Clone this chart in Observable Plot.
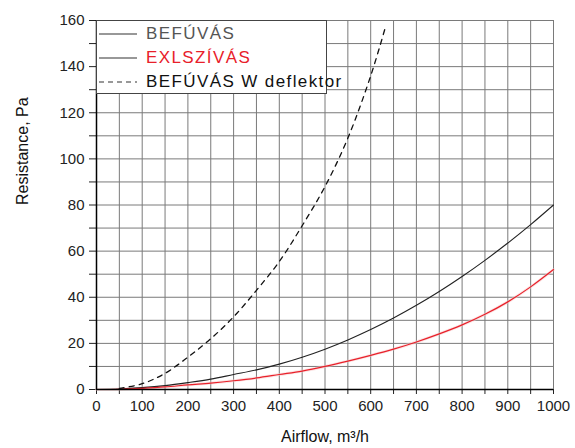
<!DOCTYPE html>
<html>
<head>
<meta charset="utf-8">
<script src="https://cdn.jsdelivr.net/npm/d3@7"></script>
<script src="https://cdn.jsdelivr.net/npm/@observablehq/plot@0.6"></script>
<style>
  html, body { margin: 0; padding: 0; background: #fff; }
  #wrap { position: relative; width: 575px; height: 448px; font-family: "Liberation Sans", Arial, sans-serif; }
  #legend { position: absolute; left: 96px; top: 20px; width: 231px; height: 74px; background: #fff;
            border: 1px solid #444; box-sizing: border-box; }
  .row { position: absolute; left: 2px; height: 24px; display: flex; align-items: center; white-space: nowrap; }
  .row span { font-size: 17px; letter-spacing: 1.4px; margin-left: 9px; white-space: nowrap; }
</style>
</head>
<body>
<div id="wrap"></div>
<script>
// Data
const flow = [0, 50, 100, 150, 200, 250, 300, 350, 400, 450, 500, 550, 600, 650, 700, 750, 800, 850, 900, 950, 1000];
const befuvas = [0, 0.2, 0.8, 1.7, 3, 4.5, 6.5, 8.5, 11, 14, 17.5, 21.5, 26, 31, 36.5, 42.5, 49, 56, 63.5, 71.5, 80];
const exlszivas = [0, 0.1, 0.5, 1.1, 2, 2.8, 3.8, 5, 6.5, 8, 10, 12.3, 14.8, 17.5, 20.6, 24.1, 28, 32.6, 38, 44.5, 52];
const deflFlow = [50, 100, 150, 200, 250, 300, 350, 400, 450, 500, 550, 600, 632];
const deflektor = [0.5, 2.5, 7, 14, 22, 31.5, 43, 55.5, 71, 88, 109, 136, 157];
const xMajor = [0, 100, 200, 300, 400, 500, 600, 700, 800, 900, 1000];
const xMinor = [50, 150, 250, 350, 450, 550, 650, 750, 850, 950];
const yMajor = [0, 20, 40, 60, 80, 100, 120, 140, 160];
const yMinor = [10, 30, 50, 70, 90, 110, 130, 150];
const xGrid = [...xMajor, ...xMinor];
const yGrid = [...yMajor, ...yMinor];
const seriesNames = ["BEFÚVÁS", "EXLSZÍVÁS", "BEFÚVÁS W deflektor"];

const s1 = flow.map((f, i) => ({f, r: befuvas[i]}));
const s2 = flow.map((f, i) => ({f, r: exlszivas[i]}));
const s3 = deflFlow.map((f, i) => ({f, r: deflektor[i]}));

const chart = Plot.plot({
  width: 575,
  height: 448,
  marginLeft: 96,
  marginRight: 22,
  marginTop: 20,
  marginBottom: 59,
  style: { fontFamily: "'Liberation Sans', Arial, sans-serif", fontSize: "14px", color: "#222", background: "#fff" },
  x: { domain: [0, 1000] },
  y: { domain: [0, 160] },
  marks: [
    Plot.gridX(xGrid, { stroke: "#7a7a7a", strokeOpacity: 1, strokeWidth: 1 }),
    Plot.gridY(yGrid, { stroke: "#7a7a7a", strokeOpacity: 1, strokeWidth: 1 }),
    Plot.axisX(xMinor, { tickSize: 5, text: null, label: null, stroke: "#222" }),
    Plot.axisX(xMajor, { tickSize: 5, tickPadding: 6, label: null, fontSize: 15, fill: "#222", stroke: "#222", tickFormat: d => String(d) }),
    Plot.axisY(yMinor, { tickSize: 7, text: null, label: null, stroke: "#222" }),
    Plot.axisY(yMajor, { tickSize: 7, tickPadding: 5, label: null, fontSize: 15, fill: "#222", stroke: "#222", tickFormat: d => String(d) }),
    Plot.text(["Airflow, m³/h"], { frameAnchor: "bottom", dy: 52, fontSize: 16, fill: "#111" }),
    Plot.text(["Resistance, Pa"], { frameAnchor: "left", dx: -74, rotate: -90, fontSize: 16, fill: "#111" }),
    Plot.line(s2, { x: "f", y: "r", stroke: "#f7c9c9", strokeWidth: 3, strokeOpacity: 0.5, curve: "catmull-rom" }),
    Plot.line(s1, { x: "f", y: "r", stroke: "#222", strokeWidth: 1.1, curve: "catmull-rom" }),
    Plot.line(s2, { x: "f", y: "r", stroke: "#e8202a", strokeWidth: 1.2, curve: "catmull-rom" }),
    Plot.line(s3, { x: "f", y: "r", stroke: "#111", strokeWidth: 1.3, strokeDasharray: "5,5", curve: "catmull-rom" }),
    Plot.ruleX([0], { stroke: "#000", strokeWidth: 1.5 }),
    Plot.ruleY([0], { stroke: "#000", strokeWidth: 1.5 })
  ]
});

const wrap = document.getElementById("wrap");
wrap.appendChild(chart);

const legend = document.createElement("div");
legend.id = "legend";
const styles = [
  { stroke: "#333", dash: "", color: "#555" },
  { stroke: "#333", dash: "", color: "#e8202a" },
  { stroke: "#333", dash: "5,4", color: "#111" }
];
seriesNames.forEach((name, i) => {
  const row = document.createElement("div");
  row.className = "row";
  row.style.top = (1 + i * 24) + "px";
  const st = styles[i];
  row.innerHTML = `<svg width="38" height="4"><line x1="0" x2="38" y1="2" y2="2" stroke="${st.stroke}" stroke-width="1.2" ${st.dash ? `stroke-dasharray="${st.dash}"` : ""}/></svg><span style="color:${st.color}">${name}</span>`;
  legend.appendChild(row);
});
wrap.appendChild(legend);
</script>
</body>
</html>
